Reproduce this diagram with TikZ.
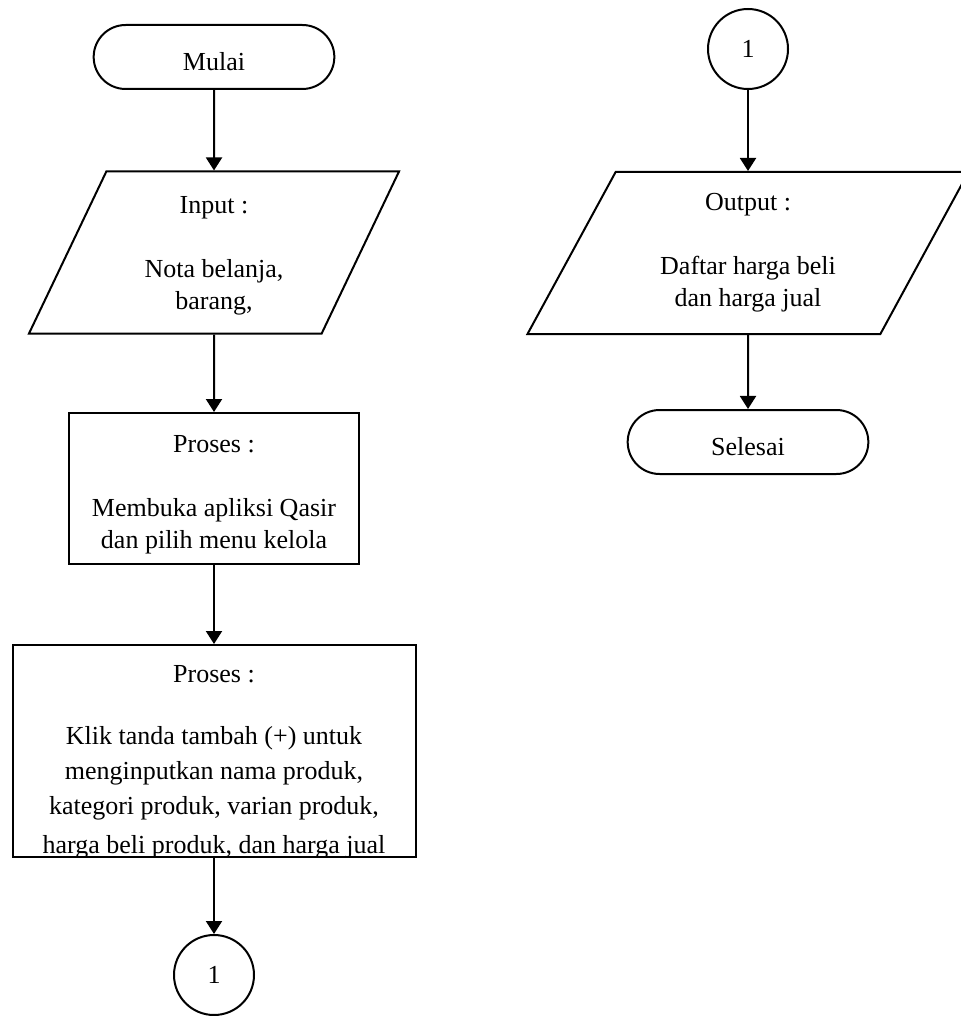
\documentclass[tikz,border=0pt]{standalone}
\usepackage{fontspec}
\setmainfont{Liberation Serif}
\usepackage{tikz}
\usetikzlibrary{shapes.geometric,shapes.misc,arrows.meta,positioning}
\tikzset{
    terminal/.style={
           rounded rectangle,
           draw=black, line width=1pt,
           minimum width=127pt,
           minimum height=32pt,
           text height=14pt,
           text centered,
           },
    io/.style={
           trapezium,
           trapezium stretches body,
           draw=black, line width=1pt,
           minimum height=81pt,
           align=center,
           },
    proses/.style={
           rectangle,
           draw=black, line width=1pt,
           align=center,
           },
    konektor/.style={
           circle,
           draw=black, line width=1pt,
           minimum size=40pt,
           inner sep=0pt,
           },
}

\begin{document}
\begin{tikzpicture}[font=\fontsize{13}{16}\selectfont,
    >={Triangle[length=6.5pt,width=8pt]}, line width=1pt]
    \useasboundingbox (0,0) rectangle (480.5pt,-508pt);
    \clip (0,0) rectangle (480.5pt,-508pt);

    % Kolom kiri: Mulai sampai konektor 1
    \node[terminal] (mulai) at (107pt,-28.5pt) {Mulai};

    \node[io,    	% parallelogram (defined above)
    trapezium left angle=60.9, trapezium right angle=119.1,
    minimum width=185pt,
    below of=mulai,
    node distance=97.75pt,
    anchor=center] (input)
    {\rule{0pt}{12pt}Input :\\[16pt] Nota belanja,\\ barang,};

    \node[proses,
    minimum width=145pt, minimum height=75.5pt,
    below of=input,
    node distance=118pt,
    anchor=center] (proses1)
    {\rule{0pt}{15pt}Proses :\\[16pt] Membuka apliksi Qasir\\ dan pilih menu kelola};

    % teks terpotong oleh batas kotak
    \node[proses,
    minimum width=201.5pt, minimum height=106pt,
    below of=proses1,
    node distance=131.25pt,
    anchor=center,
    path picture={
        \node[anchor=north, inner sep=0pt, align=center,
        font=\fontsize{13}{17.5}\selectfont]
        at ([yshift=-5pt]path picture bounding box.north)
        {Proses :\\[13.5pt] Klik tanda tambah (+) untuk\\ menginputkan nama produk,\\
         kategori produk, varian produk,\\[1.8pt] harga beli produk, dan harga jual};
    }] (proses2) {};

    \node[konektor,
    below of=proses2,
    node distance=112pt,
    anchor=center] (kon1) {1};

    % Kolom kanan: konektor 1 sampai Selesai
    \node[konektor] (kon2) at (374pt,-24.5pt) {1};

    \node[io,
    trapezium left angle=56.3, trapezium right angle=123.7,
    minimum width=220.5pt,
    below of=kon2,
    node distance=102pt,
    anchor=center] (output)
    {Output :\\[16pt] Daftar harga beli\\ dan harga jual};

    \node[terminal,
    below of=output,
    node distance=94.5pt,
    anchor=center] (selesai) {Selesai};

    % draw the flow lines
    \path
        (mulai)   edge[->] (input)
        (input)   edge[->] (proses1)
        (proses1) edge[->] (proses2)
        (proses2) edge[->] (kon1)
        (kon2)    edge[->] (output)
        (output)  edge[->] (selesai);
\end{tikzpicture}
\end{document}
